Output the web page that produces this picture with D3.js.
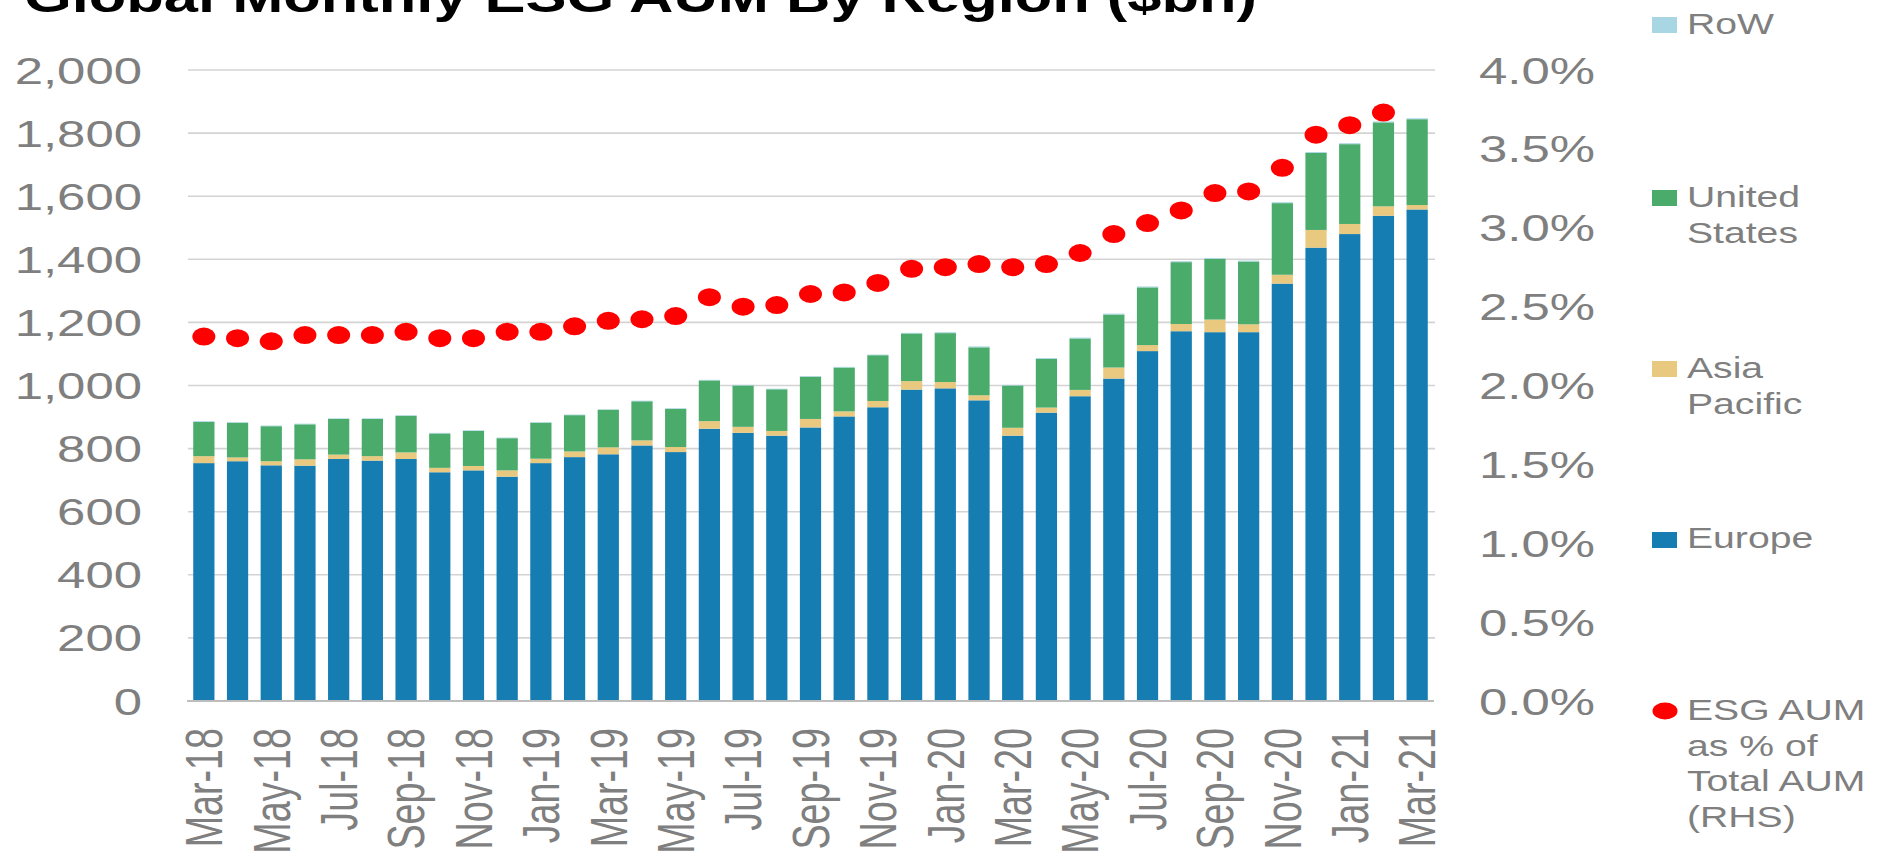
<!DOCTYPE html>
<html>
<head>
<meta charset="utf-8">
<script src="https://cdn.jsdelivr.net/npm/d3@7"></script>
<style>
  html, body { margin: 0; padding: 0; background: #fff; }
  svg { display: block; }
  text { font-family: "Liberation Sans", Arial, sans-serif; }
</style>
</head>
<body>
<div id="chart"></div>
<script>
// months on the x axis
const months = [
  'Mar-18','Apr-18','May-18','Jun-18','Jul-18','Aug-18','Sep-18','Oct-18','Nov-18','Dec-18',
  'Jan-19','Feb-19','Mar-19','Apr-19','May-19','Jun-19','Jul-19','Aug-19','Sep-19','Oct-19','Nov-19','Dec-19',
  'Jan-20','Feb-20','Mar-20','Apr-20','May-20','Jun-20','Jul-20','Aug-20','Sep-20','Oct-20','Nov-20','Dec-20',
  'Jan-21','Feb-21','Mar-21'
];

// $bn
const europe = [754, 760, 747, 746, 767, 762, 767, 725, 731, 711,
  754, 773, 782, 810, 789, 863, 850, 841, 867, 902, 931, 987,
  991, 953, 841, 914, 966, 1022, 1109, 1172, 1169, 1169, 1323, 1437,
  1480, 1538, 1558];
const asiaPacific = [22, 12, 13, 20, 14, 14, 21, 14, 14, 20,
  14, 18, 22, 16, 16, 24, 19, 15, 27, 16, 20, 27,
  20, 16, 25, 16, 20, 35, 19, 23, 40, 25, 28, 56,
  32, 30, 14];
const unitedStates = [109, 110, 111, 111, 113, 118, 116, 109, 111, 102,
  114, 115, 119, 124, 121, 129, 131, 132, 134, 139, 145, 151,
  155, 152, 134, 154, 163, 168, 183, 196, 192, 199, 227, 244,
  253, 266, 272];
const rowRegion = [2, 2, 2, 2, 2, 2, 2, 2, 2, 2,
  2, 2, 2, 2, 2, 2, 2, 2, 2, 2, 2, 2,
  3, 3, 2, 3, 3, 3, 3, 3, 3, 3, 3, 3,
  3, 3, 3];
// ESG AUM as % of total AUM (RHS); no point for Mar-21
const esgShare = [2.31, 2.30, 2.28, 2.32, 2.32, 2.32, 2.34, 2.30, 2.30, 2.34,
  2.34, 2.375, 2.41, 2.42, 2.44, 2.56, 2.50, 2.51, 2.58, 2.59, 2.65, 2.74,
  2.75, 2.77, 2.75, 2.77, 2.84, 2.96, 3.03, 3.11, 3.22, 3.23, 3.38, 3.59,
  3.65, 3.73, null];

const leftTicks = [0, 200, 400, 600, 800, 1000, 1200, 1400, 1600, 1800, 2000];
const rightTicks = [0, 0.5, 1, 1.5, 2, 2.5, 3, 3.5, 4];

const seriesKeys = ['Europe', 'Asia Pacific', 'United States', 'RoW'];
const seriesColors = ['#167db3', '#e9c97f', '#4aab6b', '#a9d6e3'];

const width = 1885, height = 853;
const plotLeft = 187, plotRight = 1434, plotBottom = 701, plotTop = 70;
const stretchX = 1.35; // the source picture is stretched sideways
const grey = '#7f7f7f';

const svg = d3.select('#chart').append('svg')
  .attr('width', width)
  .attr('height', height);

const x = d3.scaleBand()
  .domain(months)
  .range([plotLeft, plotRight])
  .paddingInner(0.37)
  .paddingOuter(0.185);

const yLeft = d3.scaleLinear().domain([0, 2000]).range([plotBottom, plotTop]);
const yRight = d3.scaleLinear().domain([0, 4]).range([plotBottom, plotTop]);

const color = d3.scaleOrdinal().domain(seriesKeys).range(seriesColors);

// helper: place a text with the sideways stretch of the source
function placeText(sel, tx, ty, extra) {
  return sel.attr('x', 0).attr('y', 0)
    .attr('transform', (d, i) => `translate(${tx(d, i)},${ty(d, i)}) scale(${stretchX},1)` + (extra || ''));
}

// gridlines
svg.append('g')
  .selectAll('line')
  .data(leftTicks.filter(t => t > 0))
  .join('line')
  .attr('x1', plotLeft + 1).attr('x2', plotRight + 1)
  .attr('y1', d => yLeft(d)).attr('y2', d => yLeft(d))
  .attr('stroke', '#d3d3d3')
  .attr('stroke-width', 1.6);

// stacked bars
const table = months.map((m, i) => ({
  month: m,
  'Europe': europe[i],
  'Asia Pacific': asiaPacific[i],
  'United States': unitedStates[i],
  'RoW': rowRegion[i]
}));
const stacked = d3.stack().keys(seriesKeys)(table);

svg.append('g')
  .selectAll('g')
  .data(stacked)
  .join('g')
  .attr('fill', d => color(d.key))
  .selectAll('rect')
  .data(d => d)
  .join('rect')
  .attr('x', d => x(d.data.month))
  .attr('width', x.bandwidth())
  .attr('y', d => yLeft(d[1]))
  .attr('height', d => yLeft(d[0]) - yLeft(d[1]));

// baseline
svg.append('line')
  .attr('x1', plotLeft).attr('x2', plotRight)
  .attr('y1', plotBottom).attr('y2', plotBottom)
  .attr('stroke', '#bdbdbd')
  .attr('stroke-width', 2);

// red dots on the right axis
svg.append('g')
  .selectAll('ellipse')
  .data(months.map((m, i) => ({month: m, v: esgShare[i]})).filter(d => d.v != null))
  .join('ellipse')
  .attr('cx', d => x(d.month) + x.bandwidth() / 2)
  .attr('cy', d => yRight(d.v))
  .attr('rx', 11.5)
  .attr('ry', 9)
  .attr('fill', '#ff0000');

// left axis labels
placeText(svg.append('g').selectAll('text').data(leftTicks).join('text'),
    () => 142, d => yLeft(d))
  .attr('text-anchor', 'end')
  .attr('dy', '0.36em')
  .attr('font-size', 37.7)
  .attr('fill', grey)
  .text(d => d3.format(',')(d));

// right axis labels
placeText(svg.append('g').selectAll('text').data(rightTicks).join('text'),
    () => 1479, d => yRight(d))
  .attr('text-anchor', 'start')
  .attr('dy', '0.36em')
  .attr('font-size', 37.7)
  .attr('fill', grey)
  .text(d => d3.format('.1f')(d) + '%');

// month labels, every other month
placeText(svg.append('g').selectAll('text').data(months.filter((m, i) => i % 2 === 0)).join('text'),
    d => x(d) + x.bandwidth() / 2, () => 728, ' rotate(-90)')
  .attr('text-anchor', 'end')
  .attr('dy', '0.36em')
  .attr('font-size', 37.7)
  .attr('fill', grey)
  .text(d => d);

// title (cut at the top like the source)
placeText(svg.append('text').datum(0), () => 24, () => 12)
  .attr('font-size', 45.5)
  .attr('font-weight', 'bold')
  .attr('fill', '#000')
  .text('Global Monthly ESG AUM By Region ($bn)');

// legend
const legendItems = [
  {key: 'RoW', lines: ['RoW'], mark: 'rect', top: 17, base: 34},
  {key: 'United States', lines: ['United', 'States'], mark: 'rect', top: 190, base: 207},
  {key: 'Asia Pacific', lines: ['Asia', 'Pacific'], mark: 'rect', top: 361, base: 378},
  {key: 'Europe', lines: ['Europe'], mark: 'rect', top: 532, base: 548},
  {key: 'ESG', lines: ['ESG AUM', 'as % of', 'Total AUM', '(RHS)'], mark: 'dot', top: 703, base: 720}
];

const legend = svg.append('g');
legendItems.forEach(item => {
  if (item.mark === 'rect') {
    legend.append('rect')
      .attr('x', 1652).attr('y', item.top)
      .attr('width', 25).attr('height', 16)
      .attr('fill', color(item.key));
  } else {
    legend.append('ellipse')
      .attr('cx', 1665).attr('cy', item.top + 8)
      .attr('rx', 12.5).attr('ry', 8.5)
      .attr('fill', '#ff0000');
  }
  placeText(legend.selectAll(null).data(item.lines).enter().append('text'),
      () => 1687, (d, i) => item.base + i * 35.5)
    .attr('font-size', 29)
    .attr('fill', grey)
    .text(d => d);
});
</script>
</body>
</html>
